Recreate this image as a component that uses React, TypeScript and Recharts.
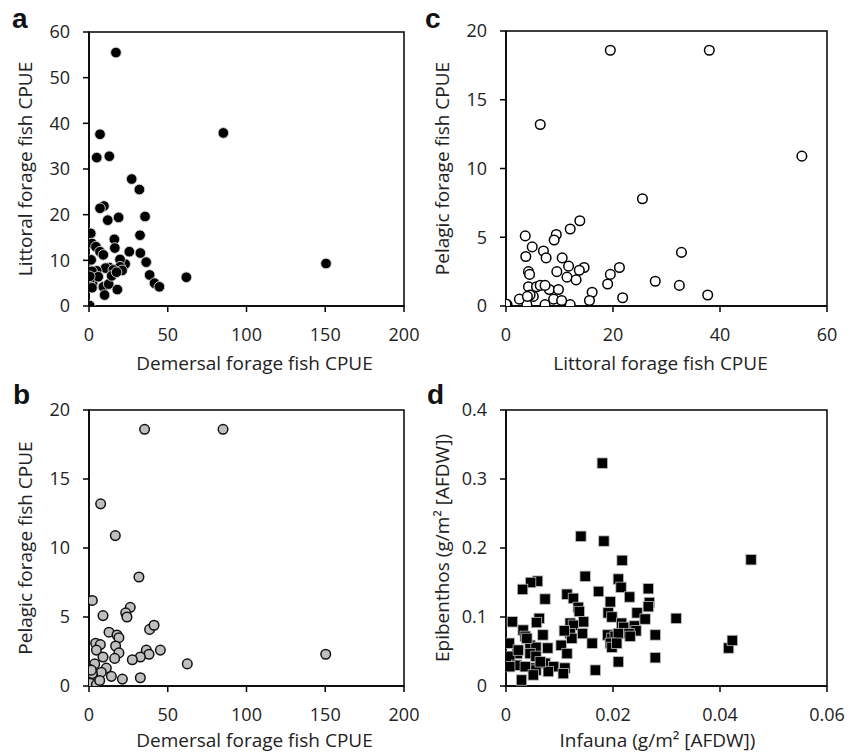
import React from "react";
import { ScatterChart, Scatter, XAxis, YAxis, ReferenceArea, Label } from "recharts";

// Panel a: Demersal (x) vs Littoral (y)
const aDemersal = [17.1, 85.3, 150.5, 7.0, 4.9, 12.9, 27.1, 32.0, 9.5, 7.0, 11.9, 18.8, 35.6, 32.4, 1.1, 1.9, 16.1, 16.4, 4.4, 7.0, 25.6, 32.6, 9.1, 1.4, 36.3, 23.0, 19.7, 19.7, 13.0, 10.5, 4.9, 1.9, 15.4, 21.0, 38.5, 61.8, 41.6, 44.7, 2.7, 2.3, 0.6, 1.9, 9.1, 12.5, 9.9, 18.0, 0.4, 5.9, 14.4, 17.5, 0.5];
const aLittoral = [55.5, 37.9, 9.3, 37.6, 32.5, 32.8, 27.8, 25.5, 21.9, 21.4, 18.8, 19.4, 19.6, 15.5, 15.9, 13.7, 14.6, 12.7, 13.0, 11.9, 11.9, 11.6, 11.2, 10.1, 9.6, 9.2, 10.2, 8.6, 8.4, 8.3, 7.7, 7.6, 7.9, 7.8, 6.8, 6.3, 5.0, 4.2, 6.1, 5.0, 5.7, 4.0, 4.2, 4.8, 2.4, 3.6, 0.1, 6.4, 6.6, 7.4, 6.5];

// Panel c: Littoral (x) vs Pelagic (y)
const cLittoral = [19.5, 38.0, 6.4, 55.3, 25.5, 13.8, 12.0, 9.4, 9.0, 3.6, 4.9, 7.0, 3.7, 7.5, 10.5, 32.8, 4.2, 4.4, 9.5, 11.7, 14.6, 13.7, 21.2, 19.5, 11.4, 13.1, 19.0, 27.9, 32.4, 37.7, 16.1, 15.6, 21.8, 12.0, 7.3, 3.9, 2.5, 4.2, 5.7, 6.4, 8.1, 9.8, 8.9, 10.4, 5.1, 4.5, 4.0, 0.2, 0.0, 0.0, 7.3];
const cPelagic = [18.6, 18.6, 13.2, 10.9, 7.8, 6.2, 5.6, 5.2, 4.8, 5.1, 4.3, 4.0, 3.6, 3.5, 3.5, 3.9, 2.5, 2.3, 2.5, 2.9, 2.8, 2.6, 2.8, 2.3, 2.1, 1.9, 1.6, 1.8, 1.5, 0.8, 1.0, 0.4, 0.6, 0.1, 0.1, 0.1, 0.5, 1.4, 1.4, 1.5, 1.2, 1.2, 0.5, 0.4, 0.7, 0.8, 0.7, 0.1, 0.0, 0.15, 1.5];

// Panel b: Demersal (x) vs Pelagic (y)
const bDemersal = [35.3, 85.1, 7.4, 16.7, 31.7, 2.1, 8.9, 26.2, 23.3, 24.1, 12.7, 17.8, 19.0, 38.5, 41.3, 4.2, 7.2, 4.7, 8.9, 16.9, 19.0, 16.3, 36.4, 38.1, 32.6, 27.5, 45.3, 62.4, 150.3, 21.2, 32.6, 14.2, 11.0, 7.8, 3.6, 0.4, 2.1, 0.0, 0.8, 4.7, 6.8, 1.5];
const bPelagic = [18.6, 18.6, 13.2, 10.9, 7.9, 6.2, 5.1, 5.7, 5.3, 5.0, 3.9, 3.7, 3.5, 4.1, 4.4, 3.1, 3.0, 2.6, 2.1, 2.9, 2.4, 2.0, 2.6, 2.3, 2.1, 1.9, 2.6, 1.6, 2.3, 0.5, 0.6, 0.7, 1.3, 1.0, 1.6, 1.2, 0.9, 0.0, 0.2, 0.1, 0.4, 1.15];

// Panel d: Infauna (x) vs Epibenthos (y)
const dInfauna = [0.0180, 0.0140, 0.0183, 0.0217, 0.0458, 0.0148, 0.0210, 0.0059, 0.0046, 0.0031, 0.0266, 0.0173, 0.0215, 0.0114, 0.0126, 0.0231, 0.0073, 0.0195, 0.0268, 0.0266, 0.0135, 0.0137, 0.0245, 0.0191, 0.0198, 0.0260, 0.0318, 0.0145, 0.0012, 0.0062, 0.0057, 0.0120, 0.0126, 0.0216, 0.0220, 0.0240, 0.0243, 0.0032, 0.0036, 0.0069, 0.0143, 0.0120, 0.0123, 0.0279, 0.0109, 0.0190, 0.0198, 0.0204, 0.0210, 0.0230, 0.0232, 0.0195, 0.0198, 0.0207, 0.0006, 0.0021, 0.0045, 0.0056, 0.0078, 0.0103, 0.0161, 0.0416, 0.0423, 0.0114, 0.0045, 0.0056, 0.0000, 0.0007, 0.0020, 0.0279, 0.0210, 0.0167, 0.0073, 0.0089, 0.0110, 0.0052, 0.0056, 0.0036, 0.0079, 0.0107, 0.0051, 0.0029, 0.0064, 0.0023, 0.0039, 0.0007];
const dEpibenthos = [0.323, 0.217, 0.210, 0.182, 0.183, 0.159, 0.155, 0.152, 0.150, 0.140, 0.141, 0.137, 0.143, 0.133, 0.127, 0.129, 0.126, 0.122, 0.121, 0.115, 0.114, 0.108, 0.106, 0.106, 0.100, 0.097, 0.098, 0.093, 0.093, 0.098, 0.092, 0.091, 0.088, 0.091, 0.085, 0.087, 0.080, 0.081, 0.072, 0.074, 0.076, 0.076, 0.069, 0.074, 0.080, 0.074, 0.069, 0.072, 0.076, 0.076, 0.072, 0.062, 0.056, 0.062, 0.062, 0.047, 0.059, 0.056, 0.055, 0.059, 0.062, 0.055, 0.066, 0.047, 0.047, 0.043, 0.039, 0.043, 0.030, 0.041, 0.035, 0.023, 0.033, 0.028, 0.026, 0.026, 0.023, 0.028, 0.021, 0.018, 0.016, 0.0087, 0.035, 0.052, 0.069, 0.028];

// Tick labels
const demersalTicks = [0, 50, 100, 150, 200];
const littoralTicksA = [0, 10, 20, 30, 40, 50, 60];
const littoralTicksC = [0, 20, 40, 60];
const pelagicTicks = [0, 5, 10, 15, 20];
const infaunaTicks = [0, 0.02, 0.04, 0.06];
const epibenthosTicks = [0, 0.1, 0.2, 0.3, 0.4];

const zip = (xs: number[], ys: number[]) => xs.map((x, i) => ({ x, y: ys[i] }));

const FONT = "'Open Sans', sans-serif";
const TEXT = "#222";
const tickStyle = { fill: TEXT, fontSize: 18, fontFamily: FONT };
const lineStyle = { stroke: "#000", strokeWidth: 1.5 };

const yTitle = (text: string, cx: number) => (props: any) => {
  const vb = props.viewBox || {};
  const cy = (vb.y || 0) + (vb.height || 0) / 2;
  return (
    <text x={cx} y={cy} transform={`rotate(-90, ${cx}, ${cy})`} textAnchor="middle" dominantBaseline="central" fill={TEXT} fontSize={19} fontFamily={FONT}>
      {text}
    </text>
  );
};

const xTitle = (text: string, dx: number, cy: number) => (props: any) => {
  const vb = props.viewBox || {};
  const cx = (vb.x || 0) + (vb.width || 0) / 2 + dx;
  return (
    <text x={cx} y={cy} textAnchor="middle" dominantBaseline="central" fill={TEXT} fontSize={19} fontFamily={FONT}>
      {text}
    </text>
  );
};

type MarkStyle = { kind: "circle" | "square"; r: number; fill: string; stroke: string; strokeWidth: number };

const markShape = (m: MarkStyle) => (props: any) => {
  const { cx, cy } = props;
  if (cx == null || cy == null) return <g />;
  if (m.kind === "square") {
    return <rect x={cx - m.r} y={cy - m.r} width={m.r * 2} height={m.r * 2} fill={m.fill} stroke={m.stroke} strokeWidth={m.strokeWidth} />;
  }
  return <circle cx={cx} cy={cy} r={m.r} fill={m.fill} stroke={m.stroke} strokeWidth={m.strokeWidth} />;
};

type PanelProps = {
  data: { x: number; y: number }[];
  xTicks: number[];
  yTicks: number[];
  xLabel: string;
  yLabel: string;
  margin: { top: number; right: number; bottom: number; left: number };
  yWidth: number;
  xHeight: number;
  yTitleX: number;
  xTitleDx: number;
  xTitleY: number;
  mark: MarkStyle;
};

const Panel = (p: PanelProps) => {
  const xMax = p.xTicks[p.xTicks.length - 1];
  const yMax = p.yTicks[p.yTicks.length - 1];
  return (
    <ScatterChart width={430} height={377} margin={p.margin}>
      <XAxis
        type="number"
        dataKey="x"
        domain={[0, xMax]}
        ticks={p.xTicks}
        interval={0}
        tickSize={6}
        tickMargin={16}
        height={p.xHeight}
        axisLine={lineStyle}
        tickLine={lineStyle}
        tick={tickStyle}
        allowDataOverflow
      >
        <Label content={xTitle(p.xLabel, p.xTitleDx, p.xTitleY)} />
      </XAxis>
      <YAxis
        type="number"
        dataKey="y"
        domain={[0, yMax]}
        ticks={p.yTicks}
        interval={0}
        tickSize={6}
        tickMargin={13}
        width={p.yWidth}
        axisLine={lineStyle}
        tickLine={lineStyle}
        tick={tickStyle}
        allowDataOverflow
      >
        <Label content={yTitle(p.yLabel, p.yTitleX)} />
      </YAxis>
      <ReferenceArea x1={0} x2={xMax} y1={0} y2={yMax} fill="none" fillOpacity={0} stroke="#000" strokeWidth={1.5} strokeOpacity={1} ifOverflow="visible" />
      <Scatter data={p.data} shape={markShape(p.mark)} isAnimationActive={false} />
    </ScatterChart>
  );
};

export default function App() {
  const cell = (left: number, top: number): React.CSSProperties => ({ position: "absolute", left, top, width: 430, height: 377 });
  return (
    <div style={{ position: "absolute", left: 0, top: 0, width: 861, height: 754, background: "#fff", overflow: "hidden" }}>
      <div style={cell(0, 0)}>
        <Panel
          data={zip(aDemersal, aLittoral)}
          xTicks={demersalTicks}
          yTicks={littoralTicksA}
          xLabel="Demersal forage fish CPUE"
          yLabel="Littoral forage fish CPUE"
          margin={{ top: 32, right: 26, bottom: 0, left: 0 }}
          yWidth={89}
          xHeight={71}
          yTitleX={25}
          xTitleDx={8}
          xTitleY={363}
          mark={{ kind: "circle", r: 5.3, fill: "#000", stroke: "#d8d8d8", strokeWidth: 0.9 }}
        />
      </div>
      <div style={cell(430, 0)}>
        <Panel
          data={zip(cLittoral, cPelagic)}
          xTicks={littoralTicksC}
          yTicks={pelagicTicks}
          xLabel="Littoral forage fish CPUE"
          yLabel="Pelagic forage fish CPUE"
          margin={{ top: 31, right: 33, bottom: 0, left: 0 }}
          yWidth={76}
          xHeight={71}
          yTitleX={12}
          xTitleDx={-6}
          xTitleY={363}
          mark={{ kind: "circle", r: 4.8, fill: "#fff", stroke: "#000", strokeWidth: 1.5 }}
        />
      </div>
      <div style={cell(0, 377)}>
        <Panel
          data={zip(bDemersal, bPelagic)}
          xTicks={demersalTicks}
          yTicks={pelagicTicks}
          xLabel="Demersal forage fish CPUE"
          yLabel="Pelagic forage fish CPUE"
          margin={{ top: 33, right: 26, bottom: 0, left: 0 }}
          yWidth={89}
          xHeight={68}
          yTitleX={25}
          xTitleDx={8}
          xTitleY={363}
          mark={{ kind: "circle", r: 4.8, fill: "#bfbfbf", stroke: "#111", strokeWidth: 1.5 }}
        />
      </div>
      <div style={cell(430, 377)}>
        <Panel
          data={zip(dInfauna, dEpibenthos)}
          xTicks={infaunaTicks}
          yTicks={epibenthosTicks}
          xLabel="Infauna (g/m² [AFDW])"
          yLabel="Epibenthos (g/m² [AFDW])"
          margin={{ top: 33, right: 33, bottom: 0, left: 0 }}
          yWidth={76}
          xHeight={68}
          yTitleX={12}
          xTitleDx={-9}
          xTitleY={363}
          mark={{ kind: "square", r: 5.2, fill: "#000", stroke: "#bbb", strokeWidth: 0.8 }}
        />
      </div>
      <svg width={861} height={754} style={{ position: "absolute", left: 0, top: 0, pointerEvents: "none" }}>
        <g fontFamily="'Liberation Sans', Arial, sans-serif" fontWeight="bold" fontSize={28} fill="#111">
          <text x={12} y={28}>a</text>
          <text x={425} y={28}>c</text>
          <text x={13} y={404}>b</text>
          <text x={427} y={404}>d</text>
        </g>
      </svg>
    </div>
  );
}
